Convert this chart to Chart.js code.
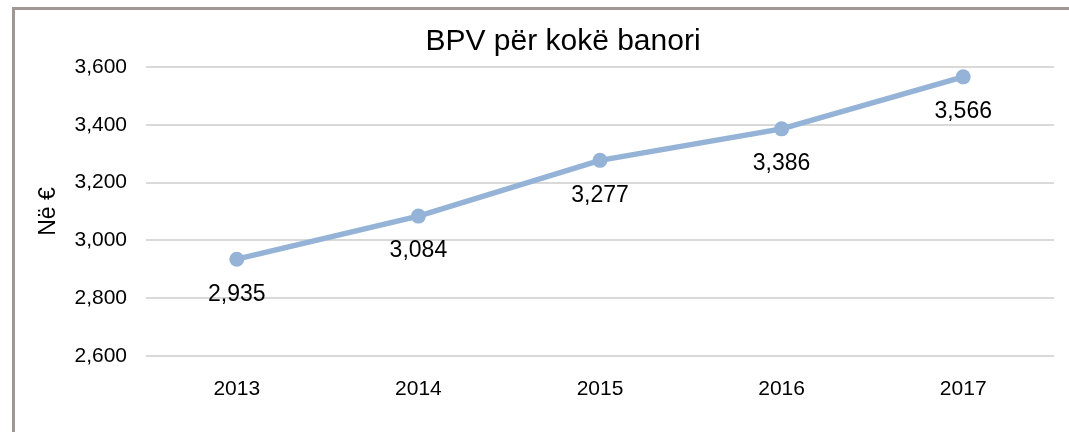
<!DOCTYPE html>
<html lang="sq">
<head>
    <meta charset="UTF-8" />
    <title>BPV për kokë banori</title>
    <style>
        html, body {
            margin: 0;
            padding: 0;
            background: #ffffff;
        }
        #wrap {
            position: relative;
            width: 1069px;
            height: 432px;
            overflow: hidden;
        }
        /* grey frame, only top and left edges are visible */
        #frame {
            position: absolute;
            left: 12px;
            top: 7px;
            width: 1100px;
            height: 500px;
            border-top: 3px solid #9f9794;
            border-left: 3px solid #9f9794;
            pointer-events: none;
        }
        #chart {
            position: absolute;
            left: 0;
            top: 0;
        }
    </style>
</head>
<body>
<div id="wrap">
    <div id="frame"></div>
    <canvas id="chart" width="1069" height="432"></canvas>
</div>

<script src="https://cdn.jsdelivr.net/npm/chart.js"></script>
<script>
    // data
    const years = ["2013", "2014", "2015", "2016", "2017"];
    const gdpPerCapita = [2935, 3084, 3277, 3386, 3566];
    const yTicks = [2600, 2800, 3000, 3200, 3400, 3600];

    const fontFamily = "'Liberation Sans', Arial, sans-serif";
    const lineColor = "#95b3d7";

    // value labels under each point (no datalabels plugin available)
    const valueLabels = {
        id: "valueLabels",
        afterDatasetsDraw(chart) {
            const ctx = chart.ctx;
            const meta = chart.getDatasetMeta(0);
            ctx.save();
            ctx.font = "23px " + fontFamily;
            ctx.fillStyle = "#000000";
            ctx.textAlign = "center";
            ctx.textBaseline = "middle";
            meta.data.forEach((pt, i) => {
                const v = chart.data.datasets[0].data[i];
                ctx.fillText(v.toLocaleString("en-US"), pt.x, pt.y + 35);
            });
            ctx.restore();
        }
    };

    new Chart(document.getElementById("chart"), {
        type: "line",
        data: {
            labels: years,
            datasets: [{
                data: gdpPerCapita,
                borderColor: lineColor,
                backgroundColor: lineColor,
                borderWidth: 5.5,
                pointRadius: 7.5,
                pointBackgroundColor: lineColor,
                pointBorderColor: lineColor,
                pointBorderWidth: 0,
                tension: 0
            }]
        },
        options: {
            responsive: false,
            animation: false,
            locale: "en-US",
            // left padding shifts the title centre to match the original
            layout: {
                padding: { left: 72, right: 15, top: 0, bottom: 0 }
            },
            plugins: {
                legend: { display: false },
                tooltip: { enabled: false },
                title: {
                    display: true,
                    text: "BPV për kokë banori",
                    color: "#000000",
                    font: { family: fontFamily, size: 30, weight: "normal" },
                    padding: { top: 24, bottom: 7 }
                }
            },
            scales: {
                x: {
                    offset: true,
                    grid: { display: false },
                    border: { display: false },
                    ticks: {
                        color: "#000000",
                        font: { family: fontFamily, size: 21 },
                        padding: 13,
                        maxRotation: 0
                    },
                    afterFit(scale) { scale.height = 76; }
                },
                y: {
                    min: yTicks[0],
                    max: yTicks[yTicks.length - 1],
                    afterBuildTicks(scale) {
                        scale.ticks = yTicks.map(v => ({ value: v }));
                    },
                    grid: {
                        color: "#d9d9d9",
                        lineWidth: 2,
                        drawTicks: false
                    },
                    border: { display: false },
                    ticks: {
                        color: "#000000",
                        font: { family: fontFamily, size: 21 },
                        padding: 19
                    },
                    title: {
                        display: true,
                        text: "Në €",
                        color: "#000000",
                        font: { family: fontFamily, size: 23 },
                        padding: { top: -37, bottom: 0 }
                    },
                    afterFit(scale) { scale.width = 74; }
                }
            }
        },
        plugins: [valueLabels]
    });
</script>
</body>
</html>
